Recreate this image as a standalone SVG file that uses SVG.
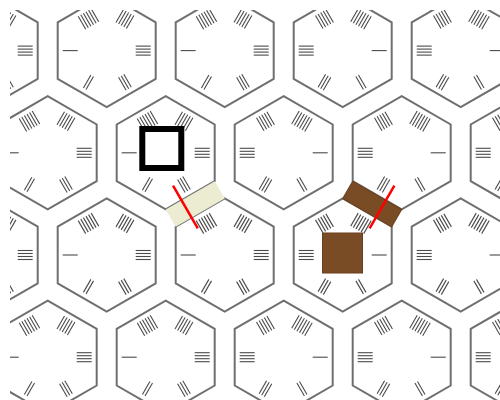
<svg xmlns="http://www.w3.org/2000/svg" xmlns:xlink="http://www.w3.org/1999/xlink" width="500" height="400" viewBox="0 0 500 400">
<style>
.hx{fill:none;stroke:#6f6f6f;stroke-width:2}
.mk line{stroke:#4a4a4a;stroke-width:1.1}
.red{stroke:#ff0000;stroke-width:2.5}
</style>
<defs>
<path id="hex" class="hx" d="M0,-56.6 L49,-28.3 L49,28.3 L0,56.6 L-49,28.3 L-49,-28.3 Z"/>
<g id="mA" class="mk">
<g><line x1="-44" y1="0" x2="-29" y2="0"/></g>
<g transform="rotate(-60)"><line x1="-44" y1="-1.5" x2="-29" y2="-1.5"/><line x1="-44" y1="1.5" x2="-29" y2="1.5"/></g>
<g transform="rotate(-120)"><line x1="-44" y1="-3" x2="-29" y2="-3"/><line x1="-44" y1="0" x2="-29" y2="0"/><line x1="-44" y1="3" x2="-29" y2="3"/></g>
<g transform="rotate(180)"><line x1="-44" y1="-4.5" x2="-29" y2="-4.5"/><line x1="-44" y1="-1.5" x2="-29" y2="-1.5"/><line x1="-44" y1="1.5" x2="-29" y2="1.5"/><line x1="-44" y1="4.5" x2="-29" y2="4.5"/></g>
<g transform="rotate(120)"><line x1="-44" y1="-6" x2="-29" y2="-6"/><line x1="-44" y1="-3" x2="-29" y2="-3"/><line x1="-44" y1="0" x2="-29" y2="0"/><line x1="-44" y1="3" x2="-29" y2="3"/><line x1="-44" y1="6" x2="-29" y2="6"/></g>
<g transform="rotate(60)"><line x1="-44" y1="-7.5" x2="-29" y2="-7.5"/><line x1="-44" y1="-4.5" x2="-29" y2="-4.5"/><line x1="-44" y1="-1.5" x2="-29" y2="-1.5"/><line x1="-44" y1="1.5" x2="-29" y2="1.5"/><line x1="-44" y1="4.5" x2="-29" y2="4.5"/><line x1="-44" y1="7.5" x2="-29" y2="7.5"/></g>
</g>
<g id="mB"><use xlink:href="#mA" transform="scale(-1,1)"/></g>
<g id="tA"><use xlink:href="#hex"/><use xlink:href="#mA"/></g>
<g id="tB"><use xlink:href="#hex"/><use xlink:href="#mB"/></g>
<clipPath id="clip"><rect x="10" y="10" width="490" height="390"/></clipPath>
</defs>
<rect width="500" height="400" fill="#ffffff"/>
<g clip-path="url(#clip)">
<g id="r1c0" transform="translate(-11.3,50.6)"><use xlink:href="#tA"/></g>
<g id="r1c1" transform="translate(106.7,50.6)"><use xlink:href="#tA"/></g>
<g id="r1c2" transform="translate(224.7,50.6)"><use xlink:href="#tA"/></g>
<g id="r1c3" transform="translate(342.7,50.6)"><use xlink:href="#tB"/></g>
<g id="r1c4" transform="translate(460.7,50.6)"><use xlink:href="#tB"/></g>
<g id="r2c1" transform="translate(47.7,152.8)"><use xlink:href="#tA"/></g>
<g id="r2c2" transform="translate(165.7,152.8)"><use xlink:href="#tA"/></g>
<g id="r2c3" transform="translate(283.7,152.8)"><use xlink:href="#tB"/></g>
<g id="r2c4" transform="translate(401.7,152.8)"><use xlink:href="#tB"/></g>
<g id="r2c5" transform="translate(519.7,152.8)"><use xlink:href="#tB"/></g>
<g id="r3c0" transform="translate(-11.3,255)"><use xlink:href="#tA"/></g>
<g id="r3c1" transform="translate(106.7,255)"><use xlink:href="#tA"/></g>
<g id="r3c2" transform="translate(224.7,255)"><use xlink:href="#tA"/></g>
<g id="r3c3" transform="translate(342.7,255)"><use xlink:href="#tB"/></g>
<g id="r3c4" transform="translate(460.7,255)"><use xlink:href="#tB"/></g>
<g id="r4c1" transform="translate(47.7,357.2)"><use xlink:href="#tA"/></g>
<g id="r4c2" transform="translate(165.7,357.2)"><use xlink:href="#tA"/></g>
<g id="r4c3" transform="translate(283.7,357.2)"><use xlink:href="#tB"/></g>
<g id="r4c4" transform="translate(401.7,357.2)"><use xlink:href="#tB"/></g>
<g id="r4c5" transform="translate(519.7,357.2)"><use xlink:href="#tB"/></g>
</g>
<g id="marker-square"><rect x="142.3" y="129" width="39" height="39" fill="none" stroke="#000000" stroke-width="6"/></g>
<g id="brown-square"><rect x="322.5" y="233" width="40" height="40" fill="#7a4c25" stroke="#6a3f1c" stroke-width="1"/></g>
<g id="connectors">
<g transform="translate(195.2,204) rotate(-30)">
<rect x="-28.3" y="-10" width="56.6" height="20" fill="#ececd3"/>
<line class="red" x1="-10" y1="-27" x2="-10" y2="22.5"/>
</g>
<g transform="translate(372.2,204) rotate(30)">
<rect x="-28.3" y="-10" width="56.6" height="20" fill="#7a4c25" stroke="#6a3f1c" stroke-width="1"/>
<line class="red" x1="10" y1="-27" x2="10" y2="22.5"/>
</g>
</g>
</svg>
